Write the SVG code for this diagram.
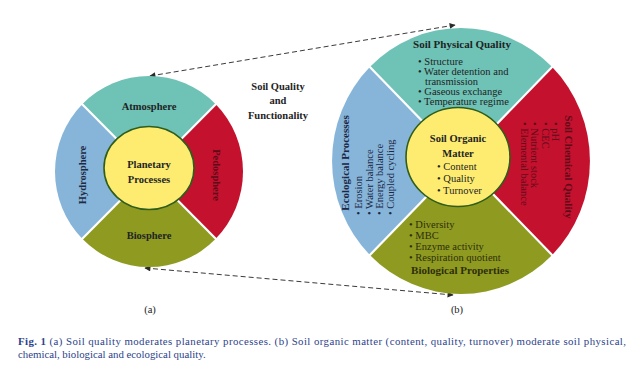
<svg xmlns="http://www.w3.org/2000/svg" width="639" height="369" viewBox="0 0 639 369">
<defs>
<style>
.t{font-family:"Liberation Serif","Times New Roman",serif;}
.b{font-weight:bold;}
.lab{font-size:10.5px;fill:#1e2424;}
.bul{font-size:10.5px;fill:#1e2424;}
.teal{fill:#6fc2b6;}
.blue{fill:#86b5d9;}
.red{fill:#c4112e;}
.olive{fill:#8f9b20;}
.core{fill:#fdec70;stroke:#2f5d1c;stroke-width:1.6;}
.sep{stroke:#ffffff;stroke-width:2.2;}
.dash{fill:none;stroke:#3a3a3a;stroke-width:1;stroke-dasharray:5 3;}
.cap{font-size:10.8px;fill:#2c428a;}
</style>
<marker id="ah" viewBox="0 0 10 10" refX="9" refY="5" markerWidth="7" markerHeight="6" orient="auto-start-reverse" markerUnits="userSpaceOnUse">
<path d="M0,0 L10,5 L0,10 Z" fill="#2a2a2a"/>
</marker>
</defs>
<rect width="639" height="369" fill="#ffffff"/>

<g id="connectors">
<path class="dash" d="M150,76 L455,25" marker-start="url(#ah)" marker-end="url(#ah)"/>
<path class="dash" d="M145,268 L453,295" marker-start="url(#ah)" marker-end="url(#ah)"/>
</g>

<g id="left-circle">
<g id="atmosphere">
<path class="teal" d="M149,171.5 L82.5,104 A94,95.5 0 0 1 215.5,104 Z"/>
<text class="t b lab" x="149" y="110" text-anchor="middle">Atmosphere</text>
</g>
<g id="pedosphere">
<path class="red" d="M149,171.5 L215.5,104 A94,95.5 0 0 1 215.5,239 Z"/>
<text class="t b" font-size="10.5" fill="#5e0b18" transform="translate(213,175) rotate(90)" text-anchor="middle">Pedosphere</text>
</g>
<g id="biosphere">
<path class="olive" d="M149,171.5 L215.5,239 A94,95.5 0 0 1 82.5,239 Z"/>
<text class="t b lab" x="149" y="239" text-anchor="middle">Biosphere</text>
</g>
<g id="hydrosphere">
<path class="blue" d="M149,171.5 L82.5,239 A94,95.5 0 0 1 82.5,104 Z"/>
<text class="t b" font-size="10.5" fill="#1f2a44" transform="translate(86,175) rotate(-90)" text-anchor="middle">Hydrosphere</text>
</g>
<line class="sep" x1="80" y1="102" x2="218" y2="241"/>
<line class="sep" x1="218" y1="102" x2="80" y2="241"/>
<g id="planetary-processes">
<ellipse class="core" cx="149" cy="168" rx="45" ry="41.5"/>
<text class="t b lab" x="149" y="168" text-anchor="middle">Planetary</text>
<text class="t b lab" x="149" y="183" text-anchor="middle">Processes</text>
</g>
</g>

<g id="soil-quality-label">
<text class="t b lab" x="278" y="90" text-anchor="middle">Soil Quality</text>
<text class="t b lab" x="278" y="104" text-anchor="middle">and</text>
<text class="t b lab" x="278" y="119" text-anchor="middle">Functionality</text>
</g>

<g id="right-circle">
<g id="soil-physical-quality">
<path class="teal" d="M461,161 L369.8,67 A129,133 0 0 1 552.2,67 Z"/>
<text class="t b" font-size="11" fill="#1e2424" x="462" y="48" text-anchor="middle">Soil Physical Quality</text>
<text class="t bul" x="418" y="64.5">• Structure</text>
<text class="t bul" x="418" y="75">• Water detention and</text>
<text class="t bul" x="425" y="84.5">transmission</text>
<text class="t bul" x="418" y="94.5">• Gaseous exchange</text>
<text class="t bul" x="418" y="104.5">• Temperature regime</text>
</g>
<g id="soil-chemical-quality">
<path class="red" d="M461,161 L552.2,67 A129,133 0 0 1 552.2,255 Z"/>
<g fill="#5e0b18" class="t">
<text class="b" font-size="11" transform="translate(565,167) rotate(90)" text-anchor="middle">Soil Chemical Quality</text>
<text font-size="10.5" transform="translate(552,122) rotate(90)">• pH</text>
<text font-size="10.5" transform="translate(541.5,122) rotate(90)">• CEC</text>
<text font-size="10.5" transform="translate(531,122) rotate(90)">• Nutrient stock</text>
<text font-size="10.5" transform="translate(520.5,122) rotate(90)">• Elemental balance</text>
</g>
</g>
<g id="biological-properties">
<path class="olive" d="M461,161 L552.2,255 A129,133 0 0 1 369.8,255 Z"/>
<g fill="#2e2e0c" class="t">
<text font-size="10.5" x="409" y="228">• Diversity</text>
<text font-size="10.5" x="409" y="239">• MBC</text>
<text font-size="10.5" x="409" y="250">• Enzyme activity</text>
<text font-size="10.5" x="409" y="261">• Respiration quotient</text>
<text class="b" font-size="11" x="460" y="274" text-anchor="middle">Biological Properties</text>
</g>
</g>
<g id="ecological-processes">
<path class="blue" d="M461,161 L369.8,255 A129,133 0 0 1 369.8,67 Z"/>
<g fill="#1d2744" class="t">
<text class="b" font-size="11" transform="translate(349,163) rotate(-90)" text-anchor="middle">Ecological Processes</text>
<text font-size="10.5" transform="translate(362,215) rotate(-90)">• Erosion</text>
<text font-size="10.5" transform="translate(372.5,215) rotate(-90)">• Water balance</text>
<text font-size="10.5" transform="translate(383,215) rotate(-90)">• Energy balance</text>
<text font-size="10.5" transform="translate(393.5,215) rotate(-90)">• Coupled cycling</text>
</g>
</g>
<line class="sep" x1="367" y1="64" x2="555" y2="258"/>
<line class="sep" x1="555" y1="64" x2="367" y2="258"/>
<g id="soil-organic-matter">
<ellipse class="core" cx="458" cy="157" rx="52" ry="49.5"/>
<text class="t b lab" font-size="11" x="458" y="142" text-anchor="middle">Soil Organic</text>
<text class="t b lab" font-size="11" x="458" y="157" text-anchor="middle">Matter</text>
<text class="t bul" x="437" y="170">• Content</text>
<text class="t bul" x="437" y="182">• Quality</text>
<text class="t bul" x="437" y="194">• Turnover</text>
</g>
</g>

<g id="panel-labels">
<text class="t" font-size="10.5" fill="#222" x="150" y="313" text-anchor="middle">(a)</text>
<text class="t" font-size="10.5" fill="#222" x="457" y="313" text-anchor="middle">(b)</text>
</g>

<g id="caption">
<text class="t cap" x="18" y="345" textLength="608" lengthAdjust="spacing"><tspan font-weight="bold">Fig. 1</tspan>   (a) Soil quality moderates planetary processes. (b) Soil organic matter (content, quality, turnover) moderate soil physical,</text>
<text class="t cap" x="18" y="358">chemical, biological and ecological quality.</text>
</g>
</svg>
